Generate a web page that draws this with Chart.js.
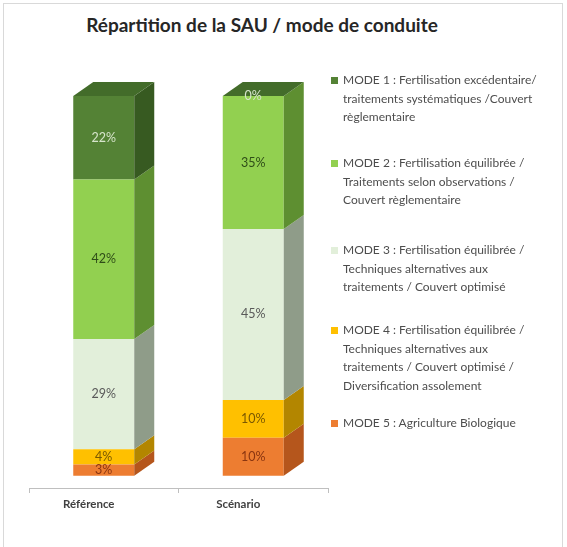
<!DOCTYPE html>
<html>
<head>
<meta charset="utf-8">
<script src="https://cdn.jsdelivr.net/npm/chart.js@4.4.0/dist/chart.umd.min.js"></script>
<style>
  body { margin: 0; background: #fff; font-family: Lato, "Open Sans", sans-serif; }
  #frame { position: absolute; left: 3px; top: 3px; width: 558px; height: 560px; border: 1px solid #d9d9d9; border-bottom: none; }
  #title { position: absolute; left: 0; top: 13px; width: 524px; text-align: center; font-weight: bold; font-size: 19px; color: #262626; }
  #myChart { position: absolute; left: 0; top: 0; }
  .leg { position: absolute; left: 331px; font-size: 12px; line-height: 18.5px; color: #4d4d4d; white-space: nowrap; }
  .leg .box { position: absolute; left: 0; top: 6px; width: 7px; height: 7px; }
  .leg .txt { margin-left: 12px; }
</style>
</head>
<body>
<div id="frame"></div>
<div id="title">Répartition de la SAU / mode de conduite</div>
<canvas id="myChart" width="567" height="547"></canvas>
<div id="legend"></div>

<script>
// data
var categories = ['Référence', 'Scénario'];
var mode1 = [22, 0];
var mode2 = [42, 35];
var mode3 = [29, 45];
var mode4 = [4, 10];
var mode5 = [3, 10];

var modeLabels = [
    ['MODE 1 : Fertilisation excédentaire/', 'traitements systématiques /Couvert', 'règlementaire'],
    ['MODE 2 : Fertilisation équilibrée /', 'Traitements selon observations /', 'Couvert règlementaire'],
    ['MODE 3 : Fertilisation équilibrée /', 'Techniques alternatives aux', 'traitements / Couvert optimisé'],
    ['MODE 4 : Fertilisation équilibrée /', 'Techniques alternatives aux', 'traitements / Couvert optimisé /', 'Diversification assolement'],
    ['MODE 5 : Agriculture Biologique']
];

// styles
var frontColors = ['#548235', '#92d050', '#e2efda', '#ffc000', '#ed7d31'];
var sideColors  = ['#375a21', '#5e8f31', '#8f9c89', '#b38600', '#b5561c'];
var topColor    = '#436c2a';
var labelColors = ['#d6e4cb', '#2f4d18', '#595959', '#7a5800', '#8a3510'];
var legendTops  = [71, 154, 241, 321, 414];
var depthX = 20, depthY = 14;

var values = [mode1, mode2, mode3, mode4, mode5];

// bottom of the stack first: MODE 5 ... MODE 1
var datasets = [];
for (var m = values.length - 1; m >= 0; m--) {
    datasets.push({
        label: modeLabels[m].join(' '),
        data: values[m],
        backgroundColor: frontColors[m],
        borderWidth: 0,
        modeIndex: m
    });
}

var box3d = {
    id: 'box3d',
    afterDatasetsDraw: function (chart) {
        var ctx = chart.ctx;
        var n = chart.data.datasets.length;
        ctx.save();
        for (var d = 0; d < n; d++) {
            var ds = chart.data.datasets[d];
            var meta = chart.getDatasetMeta(d);
            meta.data.forEach(function (el) {
                var left = el.x - el.width / 2, right = el.x + el.width / 2;
                ctx.fillStyle = sideColors[ds.modeIndex];
                ctx.beginPath();
                ctx.moveTo(right, el.y);
                ctx.lineTo(right + depthX, el.y - depthY);
                ctx.lineTo(right + depthX, el.base - depthY);
                ctx.lineTo(right, el.base);
                ctx.closePath();
                ctx.fill();
                if (d === n - 1) {
                    ctx.fillStyle = topColor;
                    ctx.beginPath();
                    ctx.moveTo(left, el.y);
                    ctx.lineTo(left + depthX, el.y - depthY);
                    ctx.lineTo(right + depthX, el.y - depthY);
                    ctx.lineTo(right, el.y);
                    ctx.closePath();
                    ctx.fill();
                }
            });
        }
        // value labels
        ctx.font = '12.5px Lato, "Open Sans", sans-serif';
        ctx.textAlign = 'center';
        ctx.textBaseline = 'middle';
        for (var d2 = 0; d2 < n; d2++) {
            var ds2 = chart.data.datasets[d2];
            chart.getDatasetMeta(d2).data.forEach(function (el, i) {
                ctx.fillStyle = labelColors[ds2.modeIndex];
                ctx.fillText(ds2.data[i] + '%', el.x, (el.y + el.base) / 2);
            });
        }
        ctx.restore();
    }
};

var chart = new Chart(document.getElementById('myChart'), {
    type: 'bar',
    data: { labels: categories, datasets: datasets },
    plugins: [box3d],
    options: {
        responsive: false,
        animation: false,
        layout: { padding: { left: 29, right: 239, top: 96, bottom: 0 } },
        plugins: { legend: { display: false }, tooltip: { enabled: false } },
        datasets: { bar: { categoryPercentage: 1, barPercentage: 0.408 } },
        scales: {
            x: {
                stacked: true,
                grid: { drawOnChartArea: false, color: '#bfbfbf', tickLength: 5, offset: true },
                border: { color: '#bfbfbf' },
                ticks: { color: '#404040', font: { family: 'Lato', size: 11.5, weight: 'bold' }, padding: 4, labelOffset: -15 },
                afterFit: function (scale) { scale.height = 59; }
            },
            y: {
                stacked: true,
                display: false,
                min: -3.2,
                max: 100
            }
        }
    }
});

// HTML legend, same order as the modes
var legend = document.getElementById('legend');
modeLabels.forEach(function (lines, m) {
    var item = document.createElement('div');
    item.className = 'leg';
    item.style.top = legendTops[m] + 'px';
    item.innerHTML = '<span class="box" style="background:' + frontColors[m] + '"></span><div class="txt">' + lines.join('<br>') + '</div>';
    legend.appendChild(item);
});
</script>
</body>
</html>
